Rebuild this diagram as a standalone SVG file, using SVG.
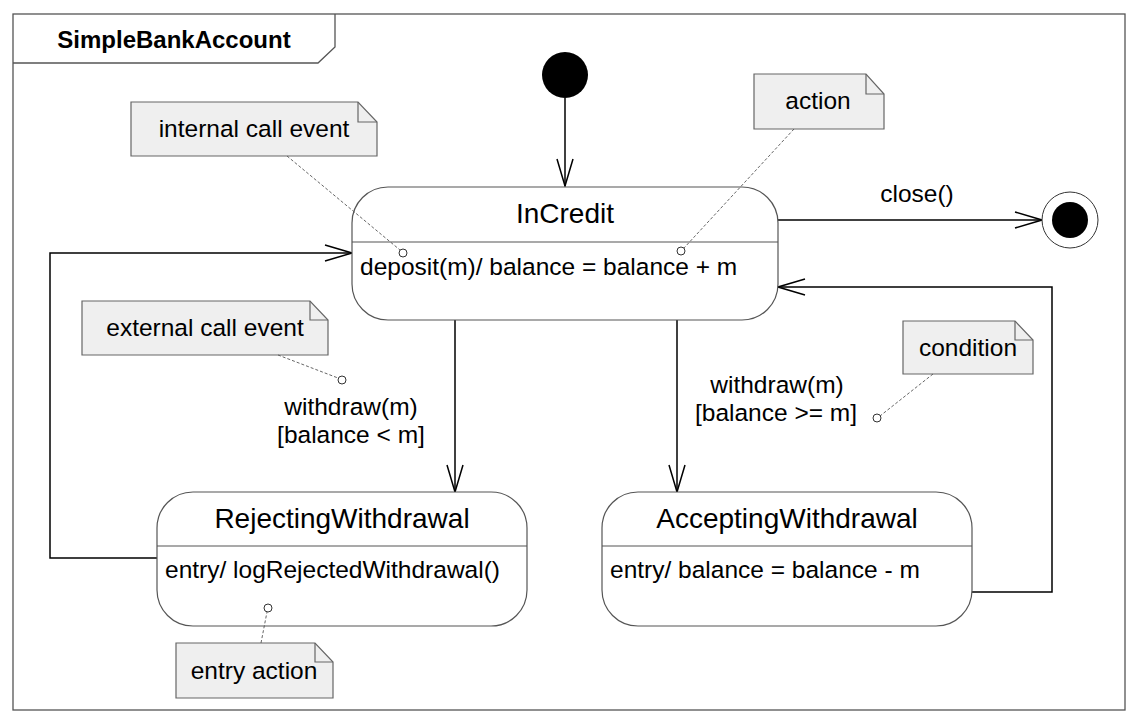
<svg xmlns="http://www.w3.org/2000/svg" width="1140" height="728" viewBox="0 0 1140 728">
<style>
text{font-family:"Liberation Sans",Arial,sans-serif;fill:#000}
.name{font-size:28px;text-anchor:middle}
.body{font-size:24.5px}
.lbl{font-size:24.5px;text-anchor:middle}
.state{fill:#fff;stroke:#555;stroke-width:1.2}
.div{stroke:#555;stroke-width:1.2}
.note{fill:#efefef;stroke:#666;stroke-width:1.2}
.fold{fill:none;stroke:#666;stroke-width:1.2}
.edge{fill:none;stroke:#000;stroke-width:1.5}
.anchor{fill:none;stroke:#555;stroke-width:0.9;stroke-dasharray:3 2}
.pin{fill:#fff;stroke:#333;stroke-width:1}
</style>
<defs>
<marker id="open" viewBox="-30 -11 32 22" markerWidth="32" markerHeight="22" refX="0" refY="0" orient="auto" markerUnits="userSpaceOnUse">
<path d="M-27,-8 L0,0 L-27,8" fill="none" stroke="#000" stroke-width="1.5"/>
</marker>
</defs>
<rect width="1140" height="728" fill="#fff"/>
<g id="frame">
<rect x="13" y="14" width="1112" height="696" fill="none" stroke="#555" stroke-width="1.3"/>
<path d="M13,63 L318,63 L335,47 L335,14" fill="none" stroke="#555" stroke-width="1.3"/>
<text x="174" y="48" font-size="24" font-weight="bold" text-anchor="middle">SimpleBankAccount</text>
</g>
<g id="connectors">
<path class="edge" d="M565,98 L565,186" marker-end="url(#open)"/>
<path class="edge" d="M778,220 L1042,220" marker-end="url(#open)"/>
<path class="edge" d="M455,320 L455,492" marker-end="url(#open)"/>
<path class="edge" d="M677,320 L677,492" marker-end="url(#open)"/>
<path class="edge" d="M157,558 L50,558 L50,253 L352,253" marker-end="url(#open)"/>
<path class="edge" d="M972,592 L1052,592 L1052,287 L778,287" marker-end="url(#open)"/>
<text class="lbl" x="917" y="202">close()</text>
<text class="lbl" x="351" y="415">withdraw(m)</text>
<text class="lbl" x="351" y="443">[balance &lt; m]</text>
<text class="lbl" x="777" y="393">withdraw(m)</text>
<text class="lbl" x="776" y="421">[balance &gt;= m]</text>
</g>
<g id="initial">
<circle cx="565" cy="75" r="23" fill="#000"/>
</g>
<g id="final">
<circle cx="1070" cy="220" r="28" fill="#fff" stroke="#333" stroke-width="1"/>
<circle cx="1070" cy="220" r="18" fill="#000"/>
</g>
<g id="InCredit">
<rect class="state" x="352" y="187" width="426" height="133" rx="36" ry="36"/>
<line class="div" x1="352" y1="242" x2="778" y2="242"/>
<text class="name" x="565" y="223">InCredit</text>
<text class="body" x="360" y="275">deposit(m)/ balance = balance + m</text>
</g>
<g id="RejectingWithdrawal">
<rect class="state" x="157" y="492" width="370" height="134" rx="36" ry="36"/>
<line class="div" x1="157" y1="546" x2="527" y2="546"/>
<text class="name" x="342" y="528">RejectingWithdrawal</text>
<text class="body" x="165" y="578">entry/ logRejectedWithdrawal()</text>
</g>
<g id="AcceptingWithdrawal">
<rect class="state" x="602" y="492" width="370" height="134" rx="36" ry="36"/>
<line class="div" x1="602" y1="546" x2="972" y2="546"/>
<text class="name" x="787" y="528">AcceptingWithdrawal</text>
<text class="body" x="610" y="578">entry/ balance = balance - m</text>
</g>
<g id="note-internal">
<path class="note" d="M131,102 L358,102 L377,122 L377,156 L131,156 Z"/>
<path class="fold" d="M358,102 L358,122 L377,122"/>
<text class="lbl" x="254" y="137">internal call event</text>
<line class="anchor" x1="287" y1="156" x2="400" y2="250"/>
<circle class="pin" cx="403" cy="253" r="4"/>
</g>
<g id="note-action">
<path class="note" d="M754,74 L866,74 L884,94 L884,129 L754,129 Z"/>
<path class="fold" d="M866,74 L866,94 L884,94"/>
<text class="lbl" x="818" y="109">action</text>
<line class="anchor" x1="794" y1="129" x2="684" y2="248"/>
<circle class="pin" cx="681" cy="251" r="4"/>
</g>
<g id="note-external">
<path class="note" d="M82,301 L310,301 L328,320 L328,355 L82,355 Z"/>
<path class="fold" d="M310,301 L310,320 L328,320"/>
<text class="lbl" x="205" y="336">external call event</text>
<line class="anchor" x1="278" y1="355" x2="338" y2="378"/>
<circle class="pin" cx="342" cy="380" r="4"/>
</g>
<g id="note-condition">
<path class="note" d="M903,321 L1015,321 L1033,340 L1033,374 L903,374 Z"/>
<path class="fold" d="M1015,321 L1015,340 L1033,340"/>
<text class="lbl" x="968" y="356">condition</text>
<line class="anchor" x1="933" y1="374" x2="880" y2="416"/>
<circle class="pin" cx="877" cy="418" r="4"/>
</g>
<g id="note-entry">
<path class="note" d="M176,643 L315,643 L333,662 L333,698 L176,698 Z"/>
<path class="fold" d="M315,643 L315,662 L333,662"/>
<text class="lbl" x="254" y="679">entry action</text>
<line class="anchor" x1="261" y1="643" x2="267" y2="612"/>
<circle class="pin" cx="268" cy="608" r="4"/>
</g>
</svg>
